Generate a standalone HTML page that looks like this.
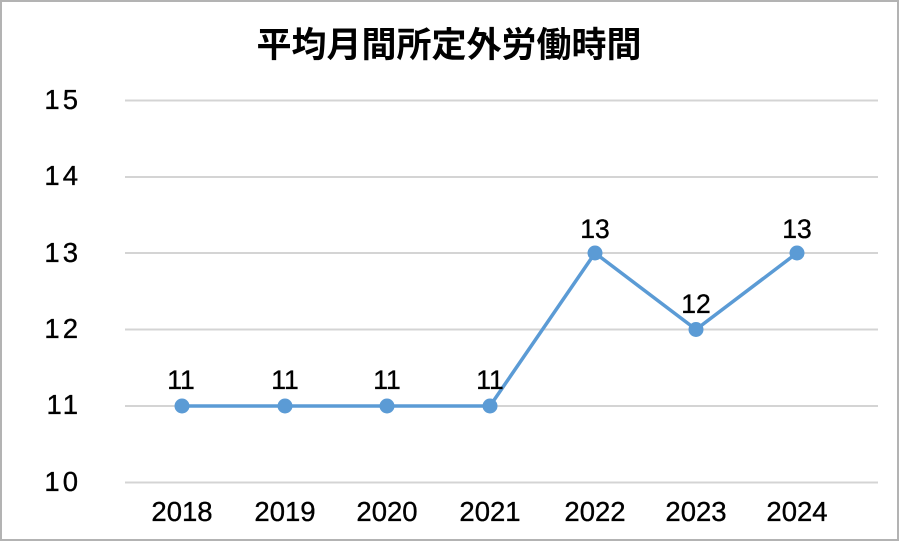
<!DOCTYPE html>
<html>
<head>
<meta charset="utf-8">
<style>
html,body{margin:0;padding:0;background:#fff;}
svg{display:block;}
text{font-family:"Liberation Sans","Noto Sans CJK JP",sans-serif;fill:#000;}
.t{stroke:#000;stroke-width:0.35;}
</style>
</head>
<body>
<svg width="900" height="542" viewBox="0 0 900 542" xmlns="http://www.w3.org/2000/svg">
  <rect x="0" y="0" width="900" height="542" fill="#fff"/>
  <rect x="1" y="1" width="897" height="539" fill="none" stroke="#b3b3b3" stroke-width="2"/>

  <text x="449" y="57" font-size="35" font-weight="bold" text-anchor="middle" style="font-family:'Noto Sans CJK JP','Liberation Sans',sans-serif;">平均月間所定外労働時間</text>

  <g stroke="#d4d4d4" stroke-width="2">
    <line x1="125" y1="100.5" x2="878" y2="100.5"/>
    <line x1="125" y1="177" x2="878" y2="177"/>
    <line x1="125" y1="253" x2="878" y2="253"/>
    <line x1="125" y1="329.5" x2="878" y2="329.5"/>
    <line x1="125" y1="406" x2="878" y2="406"/>
    <line x1="125" y1="482.5" x2="878" y2="482.5"/>
  </g>

  <g class="t" font-size="27.5" text-anchor="end" letter-spacing="3">
    <text x="81" y="109">15</text>
    <text x="81" y="185">14</text>
    <text x="81" y="262">13</text>
    <text x="81" y="338">12</text>
    <text x="81" y="414">11</text>
    <text x="81" y="491">10</text>
  </g>

  <g class="t" font-size="27.5" text-anchor="middle">
    <text x="182" y="521">2018</text>
    <text x="285" y="521">2019</text>
    <text x="387" y="521">2020</text>
    <text x="490" y="521">2021</text>
    <text x="595" y="521">2022</text>
    <text x="696" y="521">2023</text>
    <text x="797" y="521">2024</text>
  </g>

  <polyline points="182,406 285,406 387,406 490,406 595,253 696,329.5 797,253" fill="none" stroke="#5b9bd5" stroke-width="3.5" stroke-linejoin="round"/>
  <g fill="#5b9bd5">
    <circle cx="182" cy="406" r="7.5"/>
    <circle cx="285" cy="406" r="7.5"/>
    <circle cx="387" cy="406" r="7.5"/>
    <circle cx="490" cy="406" r="7.5"/>
    <circle cx="595" cy="253" r="7.5"/>
    <circle cx="696" cy="329.5" r="7.5"/>
    <circle cx="797" cy="253" r="7.5"/>
  </g>

  <g class="t" font-size="26.5" text-anchor="middle">
    <text x="181" y="389">11</text>
    <text x="285" y="389">11</text>
    <text x="387" y="389">11</text>
    <text x="490" y="389">11</text>
    <text x="595" y="238">13</text>
    <text x="696" y="313">12</text>
    <text x="797" y="238">13</text>
  </g>
</svg>
</body>
</html>
